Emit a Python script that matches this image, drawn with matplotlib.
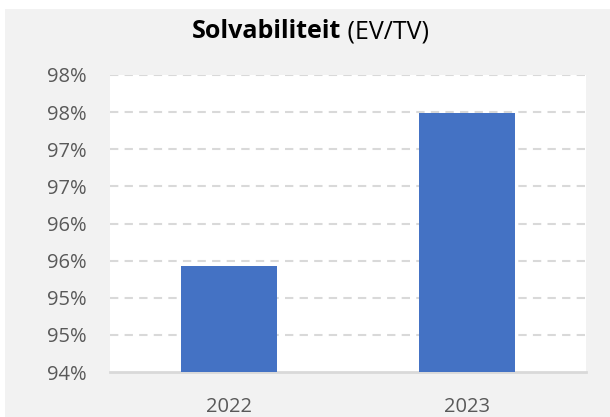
import matplotlib
matplotlib.use("Agg")
import matplotlib.pyplot as plt
from matplotlib.patches import Rectangle

years = ["2022", "2023"]
solvency = [95.43, 97.49]
y_ticks = [94.0, 94.5, 95.0, 95.5, 96.0, 96.5, 97.0, 97.5, 98.0]
y_tick_labels = ["94%", "95%", "95%", "96%", "96%", "97%", "97%", "98%", "98%"]
title_bold = "Solvabiliteit"
title_regular = "(EV/TV)"

plt.rcParams['font.family'] = ['Open Sans', 'DejaVu Sans']

fig = plt.figure(figsize=(6.10, 4.17), dpi=100)
fig.patch.set_facecolor("white")
fig.patches.append(Rectangle((5/610, 0), 1 - 5/610, (417 - 9)/417, transform=fig.transFigure,
                             facecolor="#f2f2f2", edgecolor="none", zorder=-5))

ax = fig.add_axes([110/610, (417-372)/417, (586-110)/610, (372-75)/417])
ax.set_zorder(2)
ax.set_facecolor("white")

x = list(range(len(years)))
ax.bar(x, [v - 94 for v in solvency], bottom=94, width=0.4, color="#4472c4", zorder=3)

ax.set_xlim(-0.5, 1.5)
ax.set_ylim(94, 98)
ax.set_yticks(y_ticks)
ax.set_yticklabels(y_tick_labels)
ax.set_xticks(x)
ax.set_xticklabels(years)

for t in y_ticks[1:]:
    ax.axhline(t, color="#d9d9d9", lw=1.5, ls=(0, (4, 3)), zorder=1)

for s in ["top", "right", "left"]:
    ax.spines[s].set_visible(False)
ax.spines["bottom"].set_color("#d9d9d9")
ax.spines["bottom"].set_linewidth(2)
ax.tick_params(axis="both", length=0, labelsize=14.5, labelcolor="#595959")
ax.tick_params(axis="y", pad=17)
ax.tick_params(axis="x", pad=18)

# Title composed of a bold and a regular part, centred as a whole
ty = 1 - 32/417
tb = fig.text(0, ty, title_bold, ha="left", va="center", fontsize=18, fontweight="bold", color="black")
tr = fig.text(0, ty, " " + title_regular, ha="left", va="center", fontsize=18, color="black")
fig.canvas.draw()
r = fig.canvas.get_renderer()
wb = tb.get_window_extent(r).width
wr = tr.get_window_extent(r).width
cx = 310
x0 = cx - (wb + wr) / 2
tb.set_x(x0 / 610)
tr.set_x((x0 + wb) / 610)

fig.savefig("out.png", dpi=100)
